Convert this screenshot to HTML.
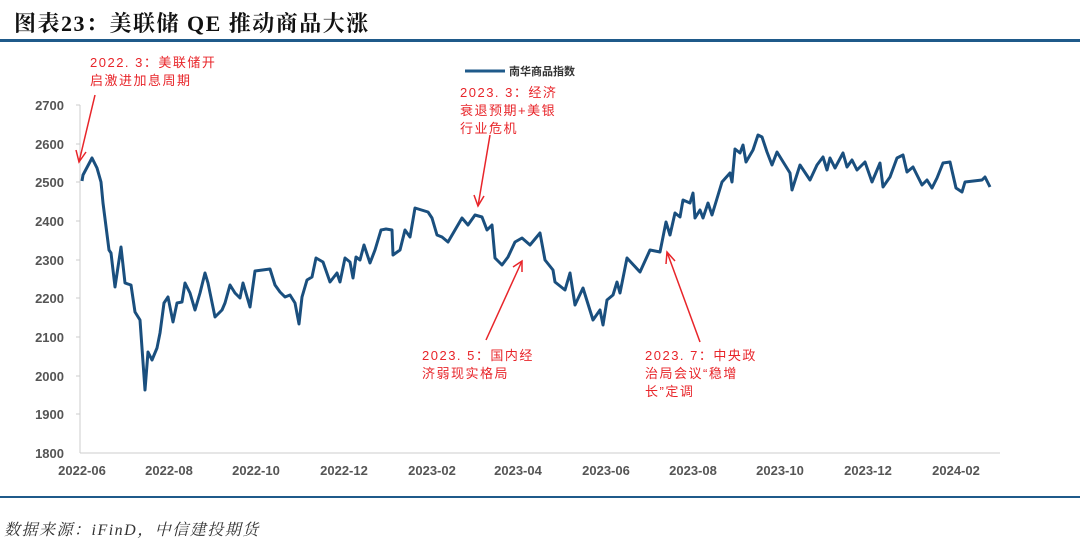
<!DOCTYPE html><html><head><meta charset="utf-8"><style>
body{margin:0;width:1080px;height:552px;background:#fff;overflow:hidden;font-family:"Liberation Sans","Noto Sans CJK SC",sans-serif}
</style></head><body>
<svg width="1080" height="552" xmlns="http://www.w3.org/2000/svg">
<text x="14" y="31" font-family="Liberation Serif,Noto Serif CJK SC,serif" font-weight="bold" font-size="22" letter-spacing="1.5" fill="#111">图表23：美联储 QE 推动商品大涨</text>
<rect x="0" y="39" width="1080" height="3" fill="#1f5a8a"/>
<rect x="0" y="496" width="1080" height="2" fill="#1f5a8a"/>
<text x="4" y="535" font-style="italic" font-size="16" letter-spacing="1.5" fill="#333" font-family="Liberation Serif,Noto Serif CJK SC,serif">数据来源：iFinD，中信建投期货</text>
<g font-size="13" font-weight="bold" fill="#555" text-anchor="end">
<text x="64" y="110">2700</text><text x="64" y="149">2600</text><text x="64" y="187">2500</text><text x="64" y="226">2400</text><text x="64" y="265">2300</text><text x="64" y="303">2200</text><text x="64" y="342">2100</text><text x="64" y="381">2000</text><text x="64" y="419">1900</text><text x="64" y="458">1800</text>
</g>
<line x1="80" y1="105" x2="80" y2="453" stroke="#ccc"/>
<g stroke="#ccc"><line x1="76" y1="105" x2="80" y2="105"/><line x1="76" y1="144" x2="80" y2="144"/><line x1="76" y1="182" x2="80" y2="182"/><line x1="76" y1="221" x2="80" y2="221"/><line x1="76" y1="260" x2="80" y2="260"/><line x1="76" y1="298" x2="80" y2="298"/><line x1="76" y1="337" x2="80" y2="337"/><line x1="76" y1="376" x2="80" y2="376"/><line x1="76" y1="414" x2="80" y2="414"/></g>
<line x1="80" y1="453" x2="1000" y2="453" stroke="#ccc"/>
<g font-size="13" font-weight="bold" fill="#555" text-anchor="middle">
<text x="82" y="475">2022-06</text><text x="169" y="475">2022-08</text><text x="256" y="475">2022-10</text><text x="344" y="475">2022-12</text><text x="432" y="475">2023-02</text><text x="518" y="475">2023-04</text><text x="606" y="475">2023-06</text><text x="693" y="475">2023-08</text><text x="780" y="475">2023-10</text><text x="868" y="475">2023-12</text><text x="956" y="475">2024-02</text>
</g>
<line x1="465" y1="71" x2="505" y2="71" stroke="#1f5a8a" stroke-width="3"/>
<text x="509" y="75" font-size="11" font-weight="bold" fill="#333">南华商品指数</text>
<polyline fill="none" stroke="#1a4f7e" stroke-width="3" stroke-linejoin="round" points="82,181 83,175 92,158 97,168 101,182 103,203 109,250 111,253 113,270 115,287 121,247 125,283 131,285 135,312 140,320 145,390 148,352 152,360 157,348 160,333 164,303 168,297 173,322 177,303 182,302 185,283 190,293 195,310 200,293 205,273 208,283 215,317 222,310 225,303 230,285 235,293 240,298 243,283 250,307 255,271 270,269 275,285 280,292 285,297 290,295 295,303 299,324 302,297 307,280 312,277 316,258 323,262 330,282 337,273 340,282 345,258 350,262 353,278 356,257 360,260 364,245 370,263 375,250 381,230 386,229 392,230 393,255 400,250 405,230 410,237 415,208 428,212 432,218 437,235 442,237 448,242 455,230 462,218 468,225 475,215 482,217 487,230 492,225 495,258 502,265 508,257 515,242 522,238 530,245 540,233 545,260 553,270 555,282 565,290 570,273 575,305 583,288 593,320 600,310 603,325 607,300 613,295 617,282 620,293 627,258 640,272 650,250 660,252 666,222 670,235 675,213 680,217 683,200 690,203 693,193 695,218 700,210 703,218 708,203 712,215 722,182 730,173 732,182 735,149 740,153 743,145 746,162 753,150 758,135 762,137 767,152 772,165 777,152 790,173 792,190 800,165 810,180 817,165 823,157 827,170 830,158 835,168 843,153 847,167 852,160 857,170 865,162 872,182 880,163 883,187 890,177 897,158 903,155 907,172 913,167 922,185 927,180 932,188 937,178 943,163 950,162 956,188 962,192 965,182 982,180 985,177 990,187"/>
<g stroke="#e8252a" stroke-width="1.5" fill="none">
<line x1="95" y1="95" x2="79" y2="162"/><polyline points="76,150 79,162 86,152"/>
<line x1="490" y1="135" x2="478" y2="206"/><polyline points="474,195 478,206 484,196"/>
<line x1="486" y1="340" x2="522" y2="261"/><polyline points="513,267 522,261 522,272"/>
<line x1="700" y1="342" x2="667" y2="252"/><polyline points="666,264 667,252 675,261"/>
</g>
<g font-size="13" fill="#e8252a" letter-spacing="1.5">
<text x="90" y="67">2022. 3：美联储开</text><text x="90" y="85">启激进加息周期</text>
<text x="460" y="97">2023. 3：经济</text><text x="460" y="115">衰退预期+美银</text><text x="460" y="133">行业危机</text>
<text x="422" y="360">2023. 5：国内经</text><text x="422" y="378">济弱现实格局</text>
<text x="645" y="360">2023. 7：中央政</text><text x="645" y="378">治局会议“稳增</text><text x="645" y="396">长”定调</text>
</g>
</svg>
</body></html>
